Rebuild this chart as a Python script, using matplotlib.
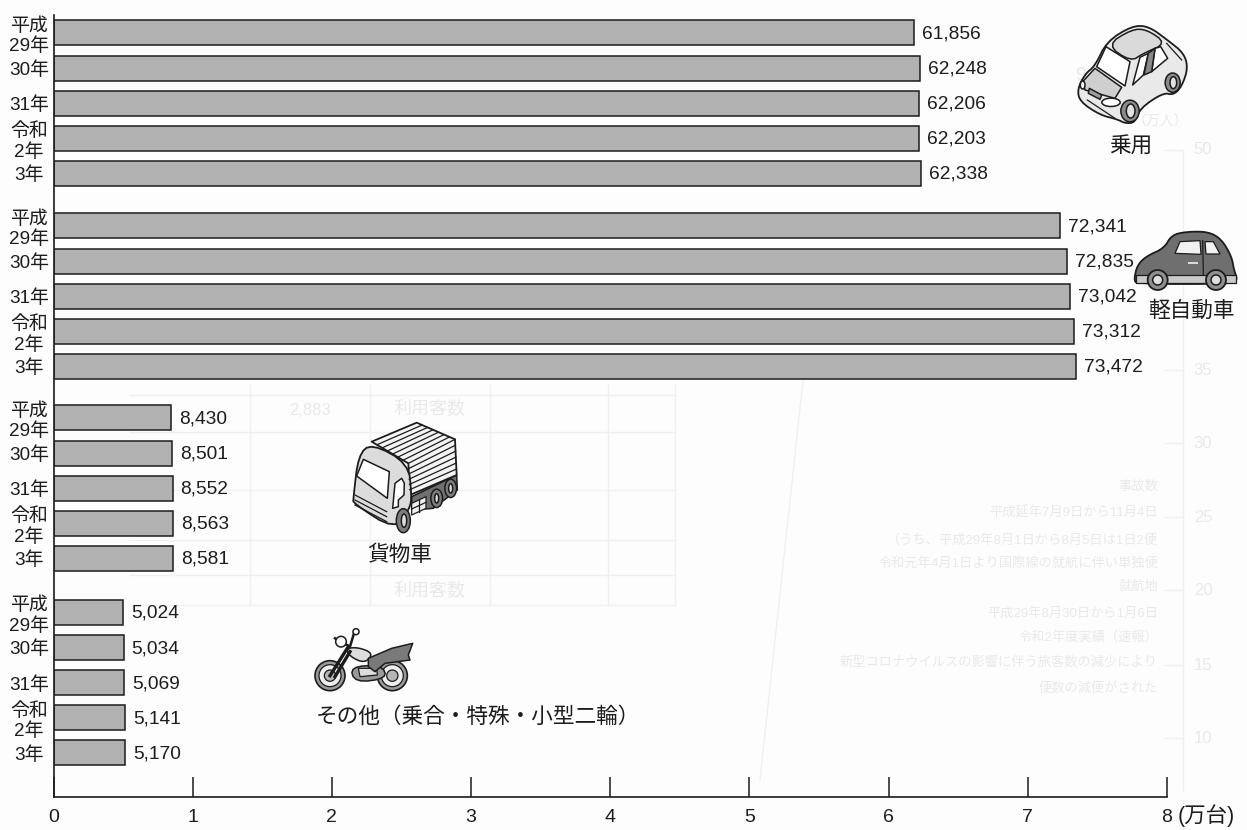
import matplotlib
matplotlib.use("Agg")
import matplotlib.pyplot as plt
from matplotlib.patches import Polygon, Ellipse

plt.rcParams["font.family"] = ["Liberation Sans", "Noto Sans CJK JP", "DejaVu Sans"]

W, H = 1247, 830

year_labels = ["平成\n29年", "30年", "31年", "令和\n2年", "3年"]
passenger = [61856, 62248, 62206, 62203, 62338]
kei = [72341, 72835, 73042, 73312, 73472]
freight = [8430, 8501, 8552, 8563, 8581]
other = [5024, 5034, 5069, 5141, 5170]
series = [passenger, kei, freight, other]
x_ticks = [0, 1, 2, 3, 4, 5, 6, 7, 8]

group_tops = [33, 226, 418, 612.5]
pitch = 35.1
bar_h = 25
bar_gray = "#b1b1b1"
ink = "#1c1c1c"
ghost = "#f0f0f0"
ghost_text = "#e9e9e9"


def px_axes(fig, z):
    a = fig.add_axes([0, 0, 1, 1], zorder=z)
    a.set_xlim(0, W)
    a.set_ylim(H, 0)
    a.axis("off")
    return a


def soften(pts, rounds=2):
    # corner cutting so the icon outlines look drawn rather than faceted
    for _ in range(rounds):
        out = []
        for i, (x0, y0) in enumerate(pts):
            x1, y1 = pts[(i + 1) % len(pts)]
            out.append((0.75 * x0 + 0.25 * x1, 0.75 * y0 + 0.25 * y1))
            out.append((0.25 * x0 + 0.75 * x1, 0.25 * y0 + 0.75 * y1))
        pts = out
    return pts


def poly(a, pts, ox, oy, s=1 / 3, fc="white", lw=1.1, ec=ink, z=3, smooth=False):
    if smooth:
        pts = soften(pts)
    a.add_patch(Polygon([(ox + x * s, oy + y * s) for x, y in pts], closed=True,
                        fc=fc, ec=ec, lw=lw, zorder=z, joinstyle="round"))


def ell(a, cx, cy, w, h, ox, oy, s=1 / 3, fc="white", lw=1.1, z=4, angle=0):
    a.add_patch(Ellipse((ox + cx * s, oy + cy * s), w * s, h * s, angle=angle,
                        fc=fc, ec=ink, lw=lw, zorder=z))


def line(a, pts, ox, oy, s=1 / 3, lw=0.9, c=ink, z=5):
    a.plot([ox + p[0] * s for p in pts], [oy + p[1] * s for p in pts], color=c, lw=lw, zorder=z)


def draw_car(a):
    ox, oy = 1000, 0
    poly(a, [(232, 268), (255, 222), (285, 198), (320, 125), (395, 78), (445, 78), (505, 122),
             (552, 160), (564, 205), (545, 260), (520, 285), (490, 278), (420, 325), (405, 368),
             (375, 370), (352, 358), (300, 345), (240, 305)], ox, oy, fc="#e9e9e9", lw=1.3, smooth=True)
    poly(a, [(320, 135), (395, 88), (440, 88), (500, 130), (430, 160), (392, 185)], ox, oy, fc="#dadada", smooth=True)
    poly(a, [(318, 140), (390, 185), (375, 258), (290, 200)], ox, oy)
    poly(a, [(285, 205), (365, 262), (345, 295), (255, 270), (248, 245)], ox, oy, fc="#cfcfcf")
    poly(a, [(420, 172), (445, 160), (430, 225), (398, 255)], ox, oy)
    poly(a, [(465, 145), (482, 140), (503, 175), (455, 215)], ox, oy)
    poly(a, [(445, 160), (465, 145), (455, 215), (432, 225)], ox, oy, fc="#8a8a8a")
    poly(a, [(268, 265), (305, 285), (300, 298), (265, 280)], ox, oy, fc="#a0a0a0")
    ell(a, 333, 307, 55, 25, ox, oy)
    ell(a, 248, 255, 14, 24, ox, oy)
    ell(a, 390, 333, 55, 65, ox, oy, fc="#8a8a8a")
    ell(a, 392, 333, 26, 42, ox, oy, fc="#e2e2e2")
    ell(a, 518, 248, 45, 58, ox, oy, fc="#8a8a8a")
    ell(a, 520, 248, 20, 36, ox, oy, fc="#e2e2e2")
    line(a, [(262, 300), (345, 355)], ox, oy)
    line(a, [(500, 130), (545, 180)], ox, oy)


def draw_kei(a):
    ox, oy = 1000, 0
    poly(a, [(402, 838), (412, 795), (440, 768), (492, 745), (515, 705), (560, 695), (625, 695),
             (665, 718), (695, 770), (702, 810), (712, 838), (700, 852), (410, 852)],
         ox, oy, fc="#6f6f6f", lw=1.3, smooth=True)
    poly(a, [(525, 760), (540, 725), (600, 722), (603, 763)], ox, oy, fc="#f2f2f2", lw=0.9)
    poly(a, [(615, 725), (640, 725), (660, 762), (618, 762)], ox, oy, fc="#f2f2f2", lw=0.9)
    poly(a, [(408, 826), (708, 826), (708, 848), (408, 848)], ox, oy, fc="#c9c9c9", lw=0.9)
    line(a, [(608, 722), (610, 826)], ox, oy)
    line(a, [(568, 788), (592, 788)], ox, oy, c="#dddddd", lw=1.4)
    for cx in [473, 648]:
        ell(a, cx, 840, 60, 60, ox, oy, fc="#8f8f8f", lw=1.3)
        ell(a, cx, 840, 30, 30, ox, oy, fc="#dedede")


def draw_truck(a):
    ox, oy = 300, 400
    poly(a, [(335, 290), (470, 225), (472, 270), (400, 325), (335, 330)], ox, oy, fc="#707070")
    poly(a, [(215, 125), (350, 68), (465, 118), (470, 225), (330, 285), (325, 190)], ox, oy, fc="#f4f4f4", lw=1.3)
    for i in range(1, 7):
        # ribs over the roof of the box
        t = i / 7
        line(a, [(215 + t * 110, 125 + t * 65), (350 + t * 115, 68 + t * 50)], ox, oy)
    for i in range(1, 6):
        # and down its side
        t = i / 6
        line(a, [(325 + t * 5, 190 + t * 95), (465 + t * 5, 118 + t * 107)], ox, oy)
    line(a, [(325, 190), (465, 118)], ox, oy)
    poly(a, [(160, 295), (175, 165), (215, 130), (325, 190), (335, 285), (330, 325), (285, 390), (160, 310)],
         ox, oy, fc="#dcdcdc", lw=1.3, smooth=True)
    poly(a, [(170, 228), (190, 178), (268, 215), (262, 295)], ox, oy)
    poly(a, [(285, 250), (305, 235), (313, 250), (312, 285), (295, 300), (295, 320), (278, 325)], ox, oy)
    for i in range(3):
        line(a, [(165, 285 + i * 15), (260, 335 + i * 15)], ox, oy)
    ell(a, 310, 362, 42, 72, ox, oy, fc="#7d7d7d")
    ell(a, 312, 362, 16, 40, ox, oy, fc="#dddddd")
    poly(a, [(335, 310), (378, 290), (378, 325), (335, 345)], ox, oy, fc="#f0f0f0", lw=0.9)
    line(a, [(356, 300), (356, 335)], ox, oy)
    line(a, [(335, 327), (378, 307)], ox, oy)
    for cx, cy in [(410, 295), (452, 265)]:
        ell(a, cx, cy, 35, 55, ox, oy, fc="#7d7d7d")
        ell(a, cx, cy, 12, 28, ox, oy, fc="#dddddd")


def draw_bike(a):
    ox, oy = 300, 400
    for cx, r in [(90, 45), (277, 45)]:
        ell(a, cx, 827, 2 * r, 2 * r, ox, oy, fc="#9a9a9a", lw=1.2)
        ell(a, cx, 827, 2 * r - 24, 2 * r - 24, ox, oy, fc="#eeeeee", lw=0.9)
        ell(a, cx, 827, 34, 34, ox, oy, fc="#b5b5b5", lw=0.9)
    poly(a, [(150, 800), (245, 795), (262, 835), (165, 848)], ox, oy, fc="#9a9a9a", z=5, smooth=True)
    poly(a, [(175, 805), (230, 805), (232, 825), (180, 830)], ox, oy, fc="#dddddd", z=6, lw=0.9)
    poly(a, [(138, 745), (175, 742), (220, 760), (195, 790), (150, 770)], ox, oy, fc="#dddddd", z=6, smooth=True)
    poly(a, [(205, 775), (275, 745), (338, 730), (325, 765), (330, 780), (255, 790), (225, 815), (205, 800)],
         ox, oy, fc="#7a7a7a", z=6)
    line(a, [(90, 827), (145, 740)], ox, oy, lw=2.4, z=7)
    line(a, [(105, 830), (150, 755)], ox, oy, lw=2.4, z=7)
    line(a, [(105, 715), (150, 740), (165, 690)], ox, oy, lw=1.8, z=7)
    ell(a, 123, 725, 32, 32, ox, oy, fc="#ffffff", z=7)
    ell(a, 168, 695, 18, 18, ox, oy, fc="#ffffff", z=7)


fig = plt.figure(figsize=(W / 100, H / 100), dpi=100, facecolor="#fdfdfd")

# faint print from the reverse side of the page
back = px_axes(fig, 0)
for x in [250, 370, 490, 608, 675]:
    back.plot([x, x], [385, 605], color=ghost, lw=1)
for y in [395, 432, 490, 540, 575, 605]:
    back.plot([130, 675], [y, y], color=ghost, lw=1)
back.plot([1183, 1183], [150, 790], color=ghost, lw=1)
back.plot([803, 760], [380, 780], color=ghost, lw=1)
for y in [150, 370, 443, 517, 590, 665, 738]:
    back.plot([1165, 1183], [y, y], color=ghost, lw=1)
for y, t in [(150, "50"), (370, "35"), (443, "30"), (517, "25"), (590, "20"), (665, "15"), (738, "10")]:
    back.text(1203, y, t, color=ghost_text, fontsize=12, ha="center", va="center")
back.text(430, 410, "利用客数", color=ghost_text, fontsize=13, ha="center", va="center")
back.text(430, 592, "利用客数", color=ghost_text, fontsize=13, ha="center", va="center")
back.text(310, 410, "2,883", color=ghost_text, fontsize=12, ha="center", va="center")
back.text(1090, 75, "9－", color=ghost_text, fontsize=14, ha="center", va="center")
back.text(1160, 122, "（万人）", color=ghost_text, fontsize=10, ha="center", va="center")
for y, t in [(487, "事故数"), (513, "平成延年7月9日から11月4日"), (540, "（うち、平成29年8月1日から8月5日は1日2便"),
             (563, "令和元年4月1日より国際線の就航に伴い単独便"), (587, "就航地"), (613, "平成29年8月30日から1月6日"),
             (637, "令和2年度実績（速報）"), (663, "新型コロナウイルスの影響に伴う旅客数の減少により"), (688, "便数の減便がされた")]:
    back.text(1158, y, t, color=ghost_text, fontsize=9.5, ha="right", va="center")

ax = fig.add_axes([53.5 / W, 1 - 797 / H, (1167 - 53.5) / W, (797 - 15) / H], zorder=1)
ax.patch.set_alpha(0)

ticks_y, ticks_txt = [], []
for top, values in zip(group_tops, series):
    ys = [top + i * pitch for i in range(len(values))]
    ax.barh(ys, [v / 10000 for v in values], height=bar_h, color=bar_gray, edgecolor=ink, linewidth=1.1)
    for y, v in zip(ys, values):
        ax.annotate(f"{v:,}", (v / 10000, y), xytext=(8, -1), textcoords="offset pixels",
                    va="center", ha="left", fontsize=13.8, color=ink)
    ticks_y += ys
    ticks_txt += year_labels

ax.set_xlim(0, 8)
ax.set_ylim(797, 15)
ax.set_yticks(ticks_y)
ax.set_yticklabels(ticks_txt, fontsize=13.6, color=ink, linespacing=1.2)
ax.tick_params(axis="y", length=0, pad=17.6)
for lab in ax.get_yticklabels():
    lab.set_ha("center")
    lab.set_multialignment("center")
ax.set_xticks(x_ticks)
ax.set_xticklabels(x_ticks, fontsize=14, color=ink)
ax.tick_params(axis="x", direction="in", length=14.4, width=1.1, color=ink, pad=8.5)
for s in ["top", "right"]:
    ax.spines[s].set_visible(False)
for s in ["left", "bottom"]:
    ax.spines[s].set_linewidth(1.2)
    ax.spines[s].set_color(ink)

top = px_axes(fig, 3)
top.patch.set_alpha(0)
top.text(1178, 816, "(万台)", fontsize=15.5, color=ink, ha="left", va="center")
for x, y, t in [(1131, 147, "乗用"), (1191, 311, "軽自動車"), (400, 555, "貨物車"),
                (478, 717, "その他（乗合・特殊・小型二輪）")]:
    top.text(x, y, t, fontsize=15.6, color=ink, ha="center", va="center")
draw_car(top)
draw_kei(top)
draw_truck(top)
draw_bike(top)

fig.savefig("out.png", dpi=100, facecolor=fig.get_facecolor())
